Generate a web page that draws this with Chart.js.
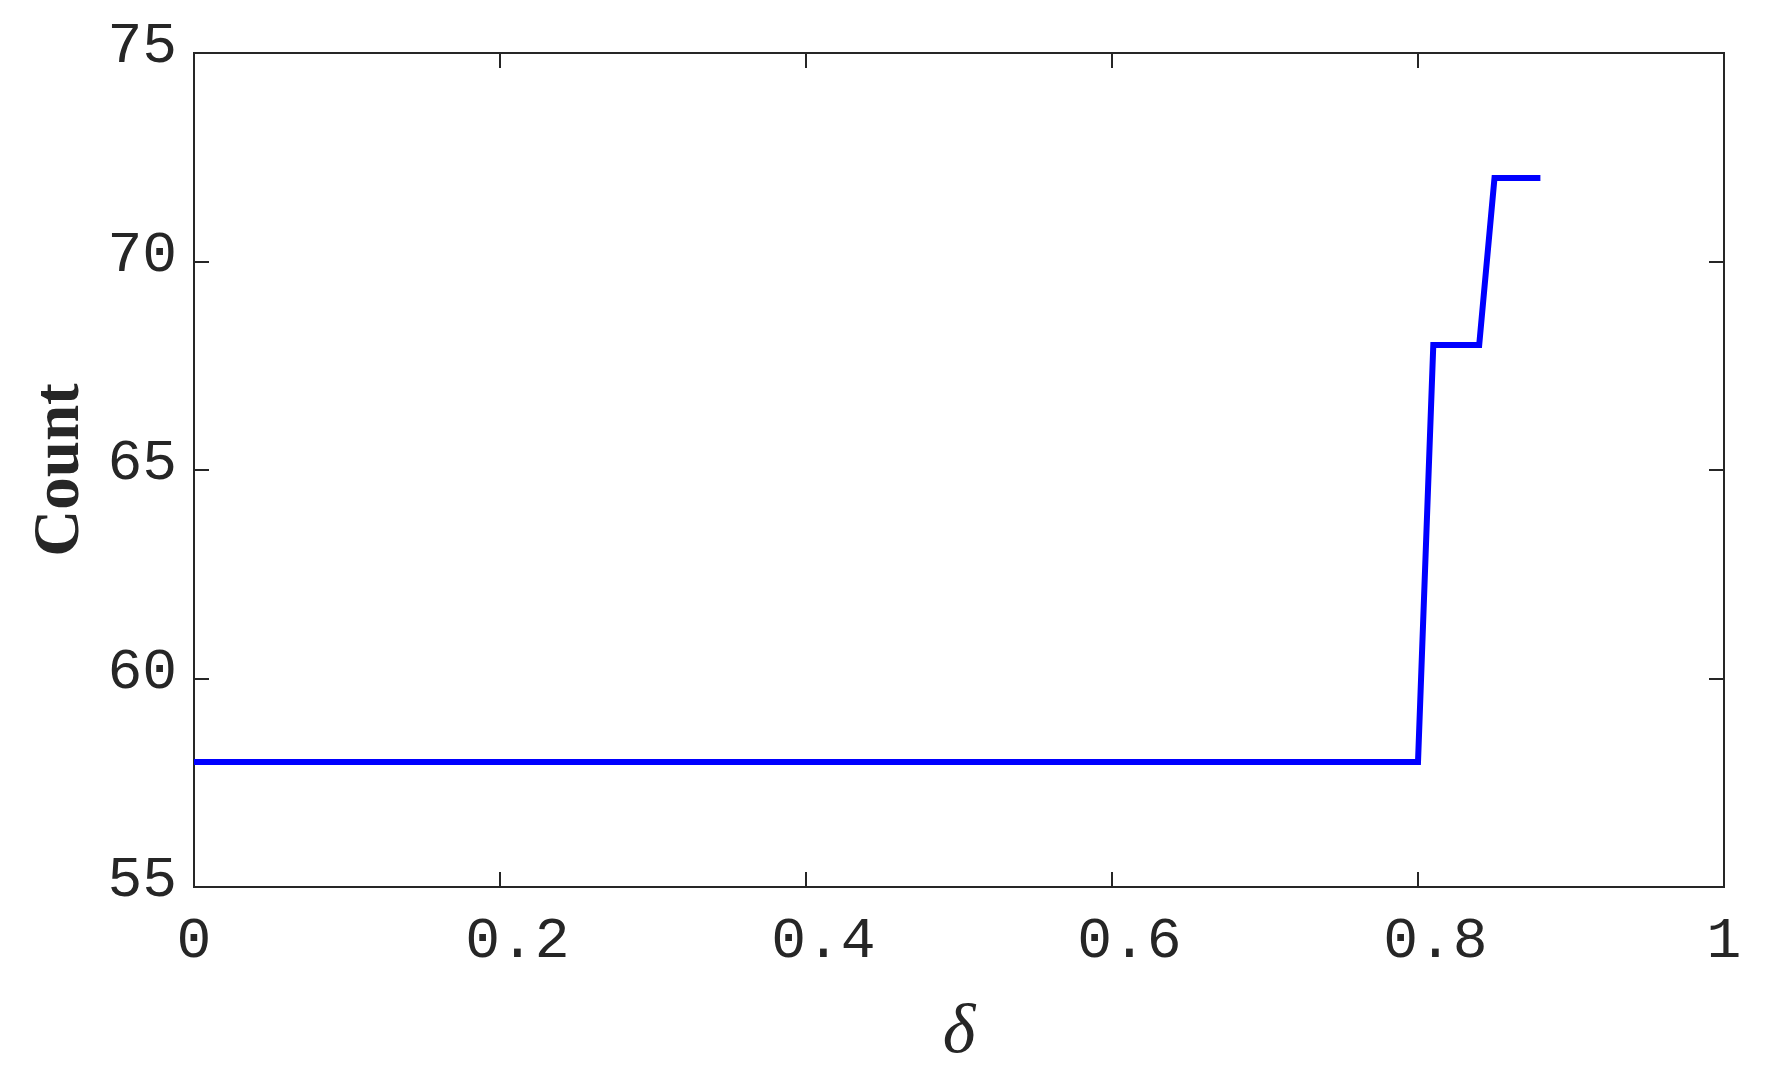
<!DOCTYPE html>
<html>
<head>
<meta charset="utf-8">
<style type="text/css">
	body{
		margin: 0;
		background: white;
	}
	#countChart{
		display: block;
	}
</style>
</head>
<body>

<canvas id="countChart" width="1773" height="1090"></canvas>

<script src="https://cdn.jsdelivr.net/npm/chart.js"></script>

<script type="text/javascript">

	// valores
	var deltaValues = [0, 0.80, 0.81, 0.84, 0.85, 0.88]
	var countValues = [58, 58, 68, 68, 72, 72]

	var xTicks = [0, 0.2, 0.4, 0.6, 0.8, 1]
	var yTicks = [55, 60, 65, 70, 75]

	var axisColor = '#262626'
	var tickFont = { family: '"Liberation Mono", "Courier New", monospace', size: 58 }

	var points = deltaValues.map((d, i) => ({ x: d, y: countValues[i] }))

	// marcas para dentro, como no original
	var gridIn = {
		display: true,
		drawOnChartArea: false,
		drawTicks: true,
		tickLength: -15,
		color: axisColor,
		lineWidth: 2
	}
	var borderCfg = { display: true, color: axisColor, width: 2 }

	var setTicks = list => scale => { scale.ticks = list.map(v => ({ value: v })) }

	// tamanho fixo de cada eixo, sem a folga dos rotulos das pontas
	var fixSize = (w, h) => s => {
		if (w !== null) s.width = w
		if (h !== null) s.height = h
		s.paddingLeft = 0
		s.paddingRight = 0
		s.paddingTop = 0
		s.paddingBottom = 0
	}

	var ctx = document.getElementById('countChart')

	var cfg = {
		type: 'line',
		data: {
			datasets: [{
				label: 'Count',
				data: points,
				borderColor: '#0000ff',
				backgroundColor: '#0000ff',
				borderWidth: 6,
				pointRadius: 0,
				fill: false,
				tension: 0
			}]
		},
		options: {
			responsive: false,
			devicePixelRatio: 1,
			animation: false,
			layout: { padding: 0 },
			plugins: {
				legend: { display: false },
				tooltip: { enabled: false }
			},
			scales: {
				x: {
					type: 'linear',
					position: 'bottom',
					min: 0,
					max: 1,
					afterBuildTicks: setTicks(xTicks),
					afterFit: fixSize(null, 203),
					grid: gridIn,
					border: borderCfg,
					ticks: {
						color: axisColor,
						font: tickFont,
						padding: 35,
						maxRotation: 0,
						autoSkip: false,
						// no original os rotulos decimais ficam um pouco a direita da marca
						callback: v => Number.isInteger(v) ? String(v) : ' ' + v
					},
					title: {
						display: true,
						text: 'δ',
						color: axisColor,
						font: { family: '"Liberation Serif", "Times New Roman", serif', size: 70, style: 'italic' },
						padding: { top: 0, bottom: 14 }
					}
				},
				x2: {
					type: 'linear',
					position: 'top',
					min: 0,
					max: 1,
					afterBuildTicks: setTicks(xTicks),
					afterFit: fixSize(null, 53),
					grid: gridIn,
					border: borderCfg,
					ticks: { display: false }
				},
				y: {
					type: 'linear',
					position: 'left',
					min: 55,
					max: 75,
					afterBuildTicks: setTicks(yTicks),
					afterFit: fixSize(194, null),
					grid: gridIn,
					border: borderCfg,
					ticks: {
						color: axisColor,
						font: tickFont,
						padding: 32,
						labelOffset: -6,
						callback: v => String(v)
					},
					title: {
						display: true,
						text: 'Count',
						color: axisColor,
						font: { family: '"Liberation Serif", "Times New Roman", serif', size: 65, weight: 'bold' },
						padding: { top: 22, bottom: 0 }
					}
				},
				y2: {
					type: 'linear',
					position: 'right',
					min: 55,
					max: 75,
					afterBuildTicks: setTicks(yTicks),
					afterFit: fixSize(49, null),
					grid: gridIn,
					border: borderCfg,
					ticks: { display: false }
				}
			}
		}
	}

	new Chart(ctx, cfg)

</script>
</body>
</html>
